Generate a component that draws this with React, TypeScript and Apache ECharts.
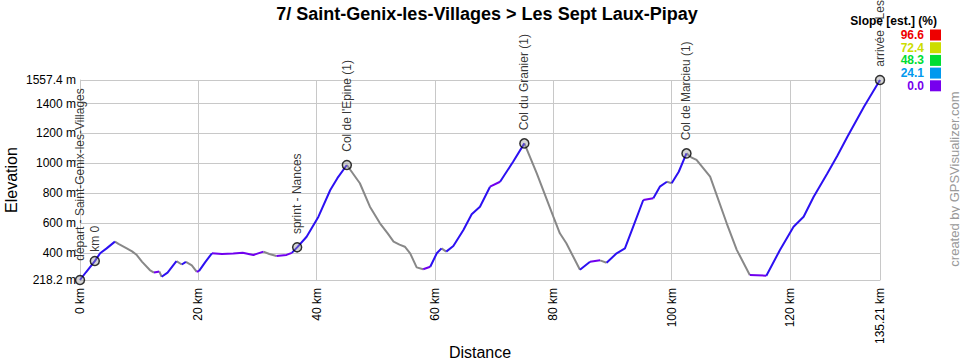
import React, { useEffect, useRef } from 'react';
import * as echarts from 'echarts';

// Profile (km, m)
const distanceKm = [
  0, 1.0, 2.5, 3.4, 4.5, 5.9, 6.5, 7.9, 8.8, 9.6, 10.5, 11.8, 12.5, 13.0, 13.4, 13.8, 14.8,
  16.3, 17.2, 17.9, 18.9, 19.7, 20.1, 21.2, 22.3, 24.0, 25.9, 27.5, 29.3, 31.0, 32.0, 33.2,
  34.9, 35.8, 36.7, 38.3, 40.3, 42.3, 43.5, 45.1, 47.3, 49.0, 50.7, 52.0, 53.0, 54.0, 54.9,
  55.8, 56.9, 58.0, 59.2, 60.3, 61.1, 61.9, 63.1, 64.8, 66.2, 67.6, 69.3, 71.0, 73.2, 75.1,
  77.2, 80.0, 81.1, 82.2, 84.5, 86.2, 87.9, 89.0, 90.7, 92.1, 93.5, 95.2, 96.9, 98.0, 99.2,
  100.0, 101.2, 102.5, 103.3, 104.2, 106.5, 109.3, 111.0, 113.2, 116.0, 118.3, 120.6, 122.3,
  124.0, 126.3, 128.0, 129.7, 132.5, 135.21,
];
const elevationM = [
  218.2, 270, 345, 397, 430, 475, 460, 430, 410, 385, 340, 285, 268, 272, 275, 240, 268,
  345, 322, 340, 316, 274, 278, 340, 397, 392, 395, 400, 386, 408, 392, 379,
  386, 400, 437, 508, 642, 821, 900, 988, 866, 709, 598, 530, 475, 455, 441,
  397, 303, 290, 307, 397, 430, 408, 446, 553, 658, 709, 843, 876, 1010, 1133,
  932, 642, 531, 464, 287, 341, 350, 334, 397, 430, 575, 754, 765, 843, 876,
  866, 943, 1066, 1040, 1022, 910, 598, 420, 252, 247, 419, 575, 642,
  776, 932, 1050, 1178, 1378, 1557.4,
];

// Waypoints
const waypointKm = [0, 2.5, 36.7, 45.1, 75.1, 102.5, 135.21];
const waypointElev = [218.2, 345, 437, 988, 1133, 1066, 1557.4];
const waypointNames = [
  'départ - Saint-Genix-les-Villages',
  'km 0',
  'sprint - Nances',
  "Col de l'Epine (1)",
  'Col du Granier (1)',
  'Col de Marcieu (1)',
  'arrivée - Les Sept Laux-Pipay',
];

// Slope legend
const slopeLegendValues = ['96.6', '72.4', '48.3', '24.1', '0.0'];
const slopeLegendColors = ['#ee0000', '#ccdd00', '#00dd33', '#0099ee', '#7700ee'];

const titleText = '7/ Saint-Genix-les-Villages > Les Sept Laux-Pipay';
const xMax = 135.21;
const yMin = 218.2;
const yMax = 1557.4;

const FONT = '"Liberation Sans", Arial, sans-serif';

type Kind = 'up' | 'flat' | 'down';
function segKind(i: number): Kind {
  const dx = (distanceKm[i + 1] - distanceKm[i]) * 1000;
  const s = ((elevationM[i + 1] - elevationM[i]) / dx) * 100;
  if (s > 2) return 'up';
  if (s < -1) return 'down';
  return 'flat';
}
function runs(kind: Kind) {
  const out: any[] = [];
  let open = false;
  for (let i = 0; i < distanceKm.length - 1; i++) {
    if (segKind(i) === kind) {
      if (!open) {
        out.push([distanceKm[i], elevationM[i]]);
        open = true;
      }
      out.push([distanceKm[i + 1], elevationM[i + 1]]);
    } else if (open) {
      out.push([distanceKm[i], null]);
      open = false;
    }
  }
  return out;
}

const fmt = (v: number) => String(Math.round(v * 100) / 100);

export default function App() {
  const ref = useRef<HTMLDivElement>(null);
  useEffect(() => {
    if (!ref.current) return;
    const chart = echarts.init(ref.current, undefined, { renderer: 'svg' });
    const lineSeries = (kind: Kind, color: string) => ({
      type: 'line',
      data: runs(kind),
      showSymbol: false,
      connectNulls: false,
      lineStyle: { color, width: 2 },
      itemStyle: { color },
      z: kind === 'down' ? 2 : 3,
      silent: true,
    });
    const graphic: any[] = [
      {
        type: 'text',
        x: 487,
        y: 14,
        style: {
          text: titleText,
          font: `bold 18px ${FONT}`,
          fill: '#000',
          align: 'center',
          verticalAlign: 'middle',
        },
      },
      {
        type: 'text',
        x: 937,
        y: 21,
        z: 10,
        style: {
          text: 'Slope [est.] (%)',
          font: `bold 12px ${FONT}`,
          fill: '#000',
          align: 'right',
          verticalAlign: 'middle',
        },
      },
      {
        type: 'text',
        x: 954,
        y: 179,
        rotation: Math.PI / 2,
        style: {
          text: 'created by GPSVisualizer.com',
          font: `13px ${FONT}`,
          fill: '#999',
          align: 'center',
          verticalAlign: 'middle',
        },
      },
    ];
    slopeLegendValues.forEach((v, i) => {
      const cy = 35 + i * 12.7;
      graphic.push({
        type: 'text',
        x: 924,
        y: cy,
        style: {
          text: v,
          font: `bold 12px ${FONT}`,
          fill: slopeLegendColors[i],
          align: 'right',
          verticalAlign: 'middle',
        },
      });
      graphic.push({
        type: 'rect',
        shape: { x: 930, y: cy - 5.5, width: 11, height: 11 },
        style: { fill: slopeLegendColors[i] },
      });
    });

    chart.setOption({
      animation: false,
      backgroundColor: '#fff',
      textStyle: { fontFamily: FONT },
      grid: { left: 80, right: 80, top: 80, bottom: 80, containLabel: false, outerBoundsMode: 'none' },
      xAxis: {
        type: 'value',
        min: 0,
        max: xMax,
        splitNumber: 7,
        axisLine: { lineStyle: { color: '#c8c8c8', width: 1 } },
        axisTick: { show: false },
        splitLine: { show: true, lineStyle: { color: '#c8c8c8', width: 1 } },
        axisLabel: {
          rotate: 90,
          margin: 8,
          fontSize: 12,
          color: '#000',
          showMinLabel: true,
          showMaxLabel: true,
          formatter: (v: number) => `${fmt(v)} km`,
        },
        name: 'Distance',
        nameLocation: 'middle',
        nameGap: 64,
        nameMoveOverlap: false,
        nameTextStyle: { fontSize: 16, color: '#000' },
      },
      yAxis: {
        type: 'value',
        min: yMin,
        max: yMax,
        splitNumber: 7,
        axisLine: { show: true, lineStyle: { color: '#c8c8c8', width: 1 } },
        axisTick: { show: false },
        splitLine: { show: true, lineStyle: { color: '#c8c8c8', width: 1 } },
        axisLabel: {
          margin: 4,
          fontSize: 12,
          color: '#000',
          showMinLabel: true,
          showMaxLabel: true,
          formatter: (v: number) => `${Math.round(v * 10) / 10} m`,
        },
        name: 'Elevation',
        nameLocation: 'middle',
        nameGap: 61,
        nameMoveOverlap: false,
        nameTextStyle: { fontSize: 16, color: '#000' },
      },
      series: [
        lineSeries('down', '#888888'),
        lineSeries('flat', '#7000ee'),
        lineSeries('up', '#2c10f2'),
        {
          type: 'scatter',
          data: waypointKm.map((x, i) => ({
            value: [x, waypointElev[i]],
            name: waypointNames[i],
            label: i === 0 ? { offset: [6, 0] } : i === 1 ? { distance: 4 } : undefined,
          })),
          symbol: 'circle',
          symbolSize: 9,
          z: 5,
          itemStyle: { color: 'rgba(150,150,150,0.5)', borderColor: '#000', borderWidth: 1.5 },
          label: {
            show: true,
            formatter: (p: any) => p.name,
            position: 'top',
            rotate: 90,
            distance: 8,
            align: 'left',
            verticalAlign: 'middle',
            fontSize: 12,
            color: '#000',
          },
          silent: true,
        },
      ],
      graphic,
    });
    return () => chart.dispose();
  }, []);
  return (
    <div
      ref={ref}
      style={{ position: 'absolute', left: 0, top: 0, width: 960, height: 360 }}
    />
  );
}
